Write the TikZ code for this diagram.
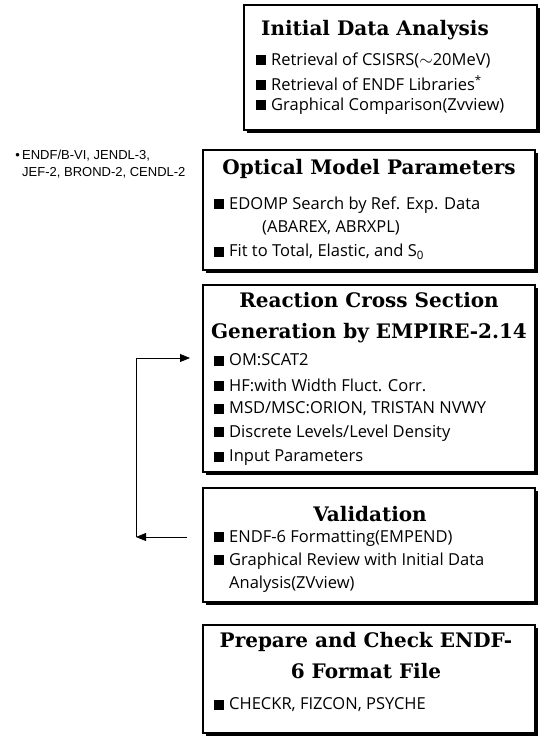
\documentclass[tikz,border=0pt]{standalone}
\usepackage{fontspec}
\setmainfont{Open Sans}
\newfontfamily\titlefont{DejaVu Serif}
\newfontfamily\notefont{Liberation Sans}
\usetikzlibrary{shadows,arrows.meta}
\newcommand{\blk}{\rule{10pt}{10pt}\hspace{5pt}}

\begin{document}
\begin{tikzpicture}
[x=1pt,y=-1pt,
  panelDecorate/.style={draw,line width=1.1pt,fill=white,inner sep=0pt,
    drop shadow={shadow xshift=3pt,shadow yshift=-3pt,fill=black,opacity=1}},
  titleDecorate/.style={font=\titlefont\bfseries\fontsize{20}{31}\selectfont,
    align=center,inner sep=0pt},
  itemDecorate/.style={anchor=west,font=\fontsize{16.5}{23}\selectfont,inner sep=0pt},
  noteDecorate/.style={anchor=north west,align=left,inner sep=0pt,
    font=\notefont\fontsize{13}{17}\selectfont},
  lineDecorate/.style={-,thick},
  arrowDecorate/.style={-{Triangle[length=10pt,width=8pt]},thick}]
\useasboundingbox (0,0) rectangle (544,736);
%% boxes
\foreach \nodename/\x/\y/\w/\h in {
  init/390.5/67.5/293/125, omp/369/210/332/120, rcs/369/378.5/332/187,
  valid/369/545/332/114, check/369/679/332/108}
{
  \node[panelDecorate,minimum width=\w pt,minimum height=\h pt] (\nodename) at (\x,\y) {};
}
%% titles
\foreach \nodename/\x/\y/\txt in {
  initT/375/30/{Initial Data Analysis},
  ompT/369/169/{Optical Model Parameters},
  rcsT/369/318/{Reaction Cross Section\\Generation by EMPIRE-2.14},
  validT/370/514/{Validation},
  checkT/366/656/{Prepare and Check ENDF-\\6 Format File}}
{
  \node[titleDecorate] (\nodename) at (\x,\y) {\txt};
}
%% items
\foreach \nodename/\x/\y/\txt in {
  i1/256/60/{\blk Retrieval of CSISRS($\sim$20MeV)},
  i2/256/83/{\blk Retrieval of ENDF Libraries\textsuperscript{*}},
  i3/256/106/{\blk Graphical Comparison(Zvview)},
  o1/214/205/{\blk EDOMP Search by Ref. Exp. Data},
  o2/262/228/{(ABAREX, ABRXPL)},
  o3/214/252/{\blk Fit to Total, Elastic, and S\textsubscript{0}},
  r1/214/360/{\blk OM:SCAT2},
  r2/214/385/{\blk HF:with Width Fluct. Corr.},
  r3/214/409/{\blk MSD/MSC:ORION, TRISTAN NVWY},
  r4/214/433/{\blk Discrete Levels/Level Density},
  r5/214/458/{\blk Input Parameters},
  v1/214/538/{\blk ENDF-6 Formatting(EMPEND)},
  v2/214/561/{\blk Graphical Review with Initial Data},
  v3/229/584/{Analysis(ZVview)},
  c1/214/705/{\blk CHECKR, FIZCON, PSYCHE}}
{
  \node[itemDecorate] (\nodename) at (\x,\y) {\txt};
}
%% footnote
\node[noteDecorate] (libs) at (22,150)
  {\llap{\textbullet\,}ENDF/B-VI, JENDL-3,\\JEF-2, BROND-2, CENDL-2};
%% loop back
\coordinate (outValid) at (187,537);
\coordinate (loopBot) at (136,537);
\coordinate (loopTop) at (136,358);
\coordinate (inRcs) at (190,358);
\draw[arrowDecorate] (outValid) -- (loopBot);
\draw[lineDecorate] (loopBot) -- (loopTop);
\draw[arrowDecorate] (loopTop) -- (inRcs);
\end{tikzpicture}
\end{document}
